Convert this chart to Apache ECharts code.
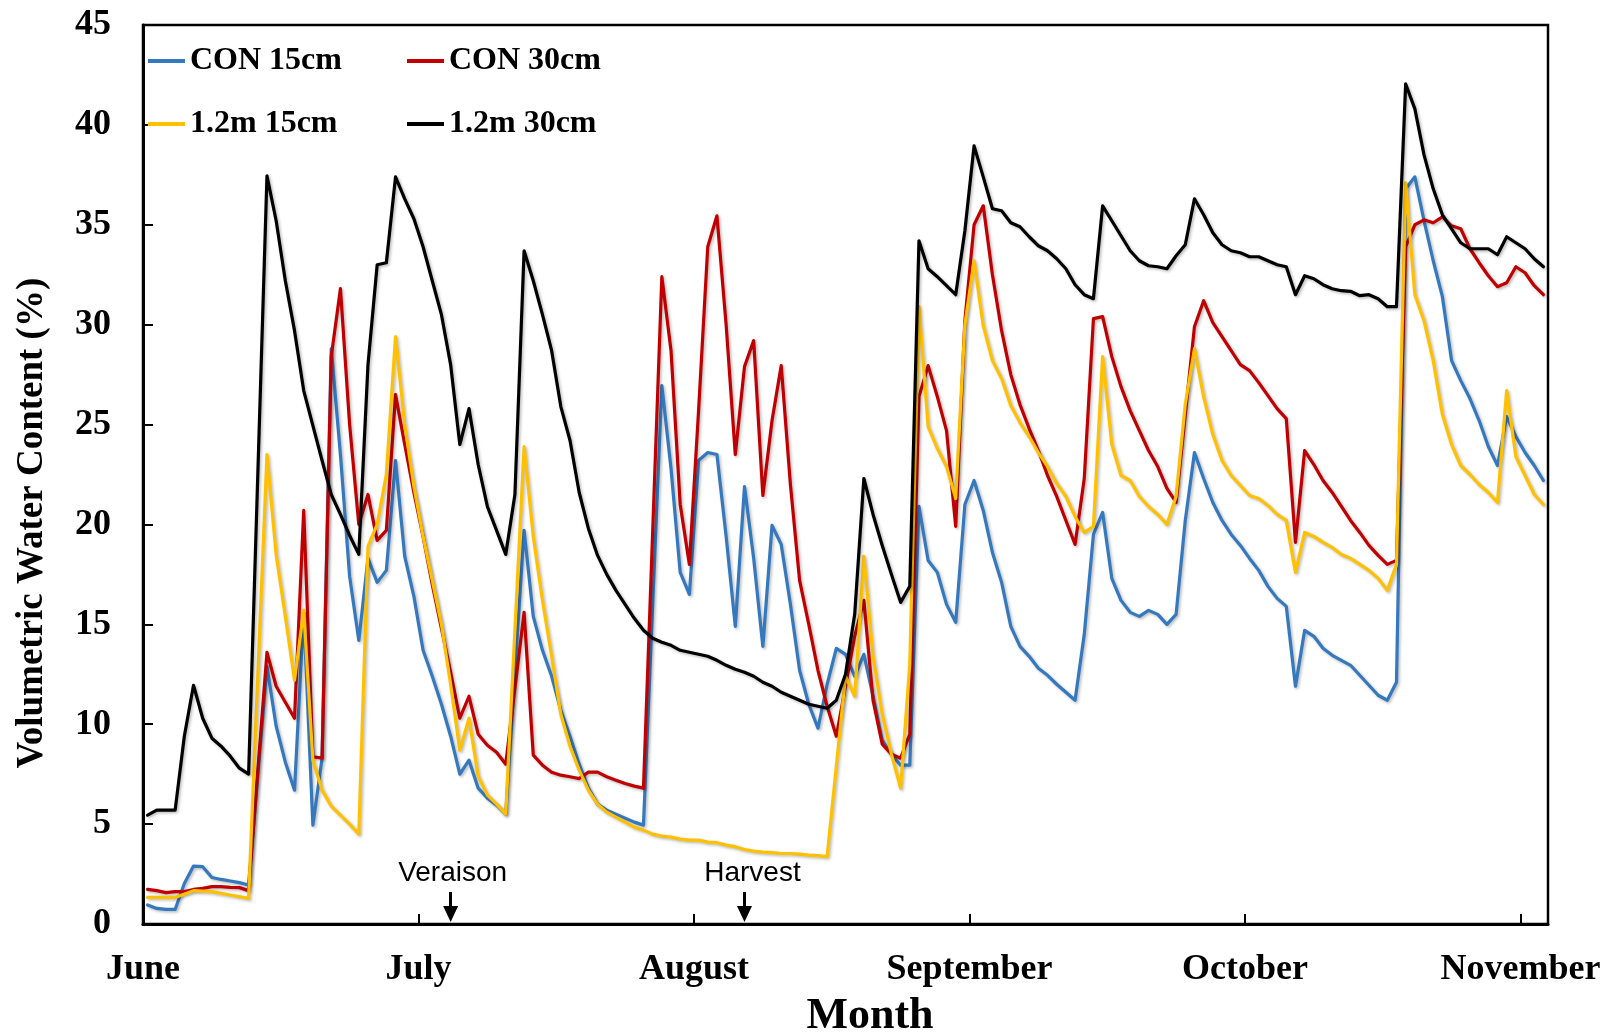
<!DOCTYPE html>
<html><head><meta charset="utf-8">
<script src="https://cdn.jsdelivr.net/npm/echarts@6/dist/echarts.min.js"></script>
<style>html,body{margin:0;padding:0;background:#fff}#c{width:1618px;height:1036px}</style>
</head><body><div id="c"></div>
<script>
// Month tick labels (one every 30 daily categories)
const monthLabels = ['June', 'July', 'August', 'September', 'October', 'November'];
const dayCount = 153;

// [day index from June 1, volumetric water content %]
const con15 = [[0,0.95],[1,0.78],[2,0.73],[3,0.73],[4,2.03],[5,2.9],[6,2.87],[7,2.33],[8,2.23],[9,2.15],[10,2.07],[11,1.95],[13,12.9],[14,9.9],[15,8.1],[16,6.7],[17,15.6],[18,4.95],[19,8.3],[20,28.8],[21,23.5],[22,17.4],[23,14.2],[24,18.3],[25,17.1],[26,17.7],[27,23.2],[28,18.4],[29,16.4],[30,13.7],[31,12.4],[32,11.0],[33,9.4],[34,7.5],[35,8.2],[36,6.8],[37,6.3],[38,5.95],[39,5.5],[41,19.7],[42,15.4],[43,13.7],[44,12.4],[45,10.7],[46,9.4],[47,8.0],[48,6.8],[49,6.0],[50,5.7],[51,5.5],[52,5.3],[53,5.1],[54,4.95],[56,26.95],[57,22.8],[58,17.6],[59,16.5],[60,23.2],[61,23.6],[62,23.5],[63,19.4],[64,14.9],[65,21.9],[66,18.3],[67,13.9],[68,19.95],[69,19.0],[70,16.0],[71,12.7],[72,11.0],[73,9.8],[74,12.0],[75,13.8],[76,13.5],[77,12.4],[78,13.5],[79,11.4],[80,9.2],[81,8.5],[82,7.95],[83,7.95],[84,20.9],[85,18.2],[86,17.6],[87,16.0],[88,15.1],[89,21.0],[90,22.2],[91,20.7],[92,18.6],[93,17.1],[94,14.9],[95,13.9],[96,13.4],[97,12.8],[98,12.45],[99,12.0],[100,11.6],[101,11.2],[102,14.5],[103,19.5],[104,20.6],[105,17.3],[106,16.2],[107,15.6],[108,15.4],[109,15.7],[110,15.5],[111,15.0],[112,15.5],[113,20.2],[114,23.6],[115,22.3],[116,21.1],[117,20.2],[118,19.5],[119,18.95],[120,18.3],[121,17.7],[122,16.9],[123,16.3],[124,15.9],[125,11.9],[126,14.7],[127,14.4],[128,13.8],[129,13.45],[130,13.2],[131,12.95],[132,12.45],[133,11.95],[134,11.45],[135,11.2],[136,12.1],[137,36.8],[138,37.4],[139,35.2],[140,33.2],[141,31.4],[142,28.2],[143,27.2],[144,26.3],[145,25.2],[146,23.9],[147,22.95],[148,25.4],[149,24.4],[150,23.6],[151,22.95],[152,22.2]];

const con30 = [[0,1.73],[1,1.67],[2,1.57],[3,1.62],[4,1.62],[5,1.73],[6,1.78],[7,1.87],[8,1.87],[9,1.83],[10,1.82],[11,1.67],[13,13.6],[14,11.9],[15,11.1],[16,10.3],[17,20.7],[18,8.37],[19,8.3],[20,28.4],[21,31.8],[22,25.0],[23,20.0],[24,21.5],[25,19.2],[26,19.7],[27,26.5],[28,24.0],[29,21.6],[30,19.4],[31,17.0],[32,14.8],[33,12.6],[34,10.3],[35,11.4],[36,9.5],[37,8.95],[38,8.6],[39,8.0],[41,15.6],[42,8.45],[43,7.95],[44,7.6],[45,7.45],[46,7.37],[47,7.28],[48,7.6],[49,7.6],[50,7.37],[51,7.2],[52,7.03],[53,6.9],[54,6.8],[56,32.4],[57,28.7],[58,21.0],[59,18.0],[60,25.7],[61,33.9],[62,35.45],[63,30.0],[64,23.5],[65,27.9],[66,29.2],[67,21.45],[68,25.2],[69,27.95],[70,22.0],[71,17.2],[72,15.0],[73,12.7],[74,10.9],[75,9.4],[76,11.9],[77,14.4],[78,16.2],[79,11.2],[80,9.0],[81,8.5],[82,8.3],[83,9.5],[84,26.4],[85,27.95],[86,26.4],[87,24.7],[88,19.9],[89,30.2],[90,35.0],[91,35.95],[92,32.5],[93,29.7],[94,27.5],[95,26.0],[96,24.8],[97,23.7],[98,22.45],[99,21.4],[100,20.2],[101,19.0],[102,22.3],[103,30.3],[104,30.4],[105,28.4],[106,26.9],[107,25.7],[108,24.7],[109,23.7],[110,22.9],[111,21.8],[112,21.1],[113,25.5],[114,29.9],[115,31.2],[116,30.1],[117,29.4],[118,28.7],[119,28.0],[120,27.7],[121,27.1],[122,26.45],[123,25.8],[124,25.3],[125,19.1],[126,23.7],[127,23.0],[128,22.2],[129,21.6],[130,20.9],[131,20.2],[132,19.6],[133,18.95],[134,18.45],[135,18.0],[136,18.2],[137,33.9],[138,35.0],[139,35.25],[140,35.1],[141,35.4],[142,34.95],[143,34.8],[144,33.8],[145,33.1],[146,32.45],[147,31.9],[148,32.1],[149,32.9],[150,32.6],[151,31.95],[152,31.5]];

const m12_15 = [[0,1.33],[3,1.33],[5,1.67],[7,1.62],[9,1.45],[11,1.28],[13,23.5],[14,18.5],[15,15.4],[16,12.2],[17,15.7],[18,8.2],[19,6.7],[20,5.9],[21,5.45],[22,5.0],[23,4.5],[24,18.9],[25,20.0],[26,22.5],[27,29.4],[28,25.0],[29,21.9],[30,19.4],[31,17.2],[32,15.0],[33,12.0],[34,8.7],[35,10.3],[36,7.4],[37,6.45],[38,6.0],[39,5.5],[41,23.9],[42,19.4],[43,16.2],[44,13.4],[45,10.5],[46,8.9],[47,7.7],[48,6.7],[49,6.0],[50,5.6],[51,5.35],[52,5.1],[53,4.85],[54,4.7],[55,4.5],[56,4.4],[57,4.35],[58,4.25],[59,4.2],[60,4.2],[61,4.1],[62,4.07],[63,3.95],[64,3.87],[65,3.73],[66,3.65],[67,3.6],[68,3.57],[69,3.53],[70,3.53],[71,3.5],[72,3.45],[73,3.42],[74,3.37],[76,12.4],[77,11.4],[78,18.4],[79,13.4],[80,10.5],[81,8.5],[82,6.8],[83,13.0],[84,30.9],[85,24.9],[86,23.8],[87,22.9],[88,21.3],[89,30.0],[90,33.2],[91,29.95],[92,28.2],[93,27.3],[94,25.95],[95,25.1],[96,24.4],[97,23.6],[98,22.9],[99,22.05],[100,21.4],[101,20.4],[102,19.6],[103,19.9],[104,28.4],[105,24.0],[106,22.45],[107,22.2],[108,21.4],[109,20.9],[110,20.5],[111,20.0],[112,21.4],[113,26.0],[114,28.8],[115,26.4],[116,24.5],[117,23.2],[118,22.45],[119,21.95],[120,21.45],[121,21.3],[122,20.95],[123,20.5],[124,20.2],[125,17.6],[126,19.6],[127,19.4],[128,19.1],[129,18.85],[130,18.5],[131,18.3],[132,18.0],[133,17.7],[134,17.3],[135,16.7],[136,18.0],[137,37.1],[138,31.5],[139,30.2],[140,28.2],[141,25.5],[142,24.0],[143,22.95],[144,22.5],[145,22.0],[146,21.6],[147,21.1],[148,26.7],[149,23.4],[150,22.45],[151,21.5],[152,21.0]];

const m12_30 = [[0,5.45],[1,5.7],[2,5.7],[3,5.7],[4,9.4],[5,11.95],[6,10.3],[7,9.3],[8,8.9],[9,8.4],[10,7.8],[11,7.5],[13,37.45],[14,35.2],[15,32.2],[16,29.7],[17,26.7],[18,24.95],[19,23.2],[20,21.5],[21,20.5],[22,19.45],[23,18.5],[24,28.0],[25,33.0],[26,33.1],[27,37.4],[28,36.3],[29,35.3],[30,33.9],[31,32.2],[32,30.5],[33,28.0],[34,24.0],[35,25.8],[36,23.0],[37,20.9],[38,19.7],[39,18.5],[40,21.5],[41,33.7],[42,32.2],[43,30.5],[44,28.7],[45,25.9],[46,24.2],[47,21.6],[48,19.8],[49,18.45],[50,17.5],[51,16.7],[52,16.0],[53,15.3],[54,14.7],[55,14.3],[56,14.1],[57,13.95],[58,13.7],[59,13.6],[60,13.5],[61,13.4],[62,13.2],[63,12.95],[64,12.75],[65,12.6],[66,12.4],[67,12.1],[68,11.9],[69,11.6],[70,11.4],[71,11.2],[72,11.0],[73,10.9],[74,10.8],[75,11.2],[76,12.5],[77,15.5],[78,22.3],[79,20.5],[80,18.95],[81,17.5],[82,16.1],[83,16.9],[84,34.2],[85,32.8],[86,32.4],[87,31.95],[88,31.5],[89,34.7],[90,38.95],[91,37.4],[92,35.8],[93,35.7],[94,35.1],[95,34.9],[96,34.4],[97,33.95],[98,33.7],[99,33.3],[100,32.8],[101,32.0],[102,31.5],[103,31.3],[104,35.95],[105,35.2],[106,34.45],[107,33.7],[108,33.2],[109,32.95],[110,32.9],[111,32.8],[112,33.45],[113,34.0],[114,36.3],[115,35.5],[116,34.6],[117,34.0],[118,33.7],[119,33.6],[120,33.4],[121,33.4],[122,33.2],[123,33.0],[124,32.9],[125,31.5],[126,32.45],[127,32.3],[128,32.0],[129,31.8],[130,31.7],[131,31.67],[132,31.45],[133,31.5],[134,31.3],[135,30.9],[136,30.9],[137,42.05],[138,40.8],[139,38.5],[140,36.8],[141,35.5],[142,34.8],[143,34.1],[144,33.8],[145,33.8],[146,33.8],[147,33.5],[148,34.4],[149,34.1],[150,33.8],[151,33.3],[152,32.9]];

// Event markers: [label, day index]
const events = [['Veraison', 33], ['Harvest', 65]];
const eventLabelShift = [2, 8];

const seriesNames = ['CON 15cm', 'CON 30cm', '1.2m 15cm', '1.2m 30cm'];
const seriesColors = ['#3478BE', '#C00000', '#FFC000', '#000000'];
const seriesData = [con15, con30, m12_15, m12_30];

const chart = echarts.init(document.getElementById('c'), null, {renderer: 'canvas'});
const serif = '"Liberation Serif", "Times New Roman", serif';

const series = seriesData.map((arr, k) => ({
  name: seriesNames[k],
  type: 'line',
  data: arr.map(p => [p[0] + 0.5, p[1]]),
  showSymbol: false,
  symbol: 'none',
  color: seriesColors[k],
  lineStyle: {width: 3.2, color: seriesColors[k], join: 'round', cap: 'round',
    shadowColor: 'rgba(0,0,0,0.28)', shadowBlur: 3, shadowOffsetX: 1.5, shadowOffsetY: 1.5},
  z: 2 + k,
  animation: false
}));

series.push({
  name: 'events', type: 'line', data: [], silent: true, animation: false,
  markLine: {
    silent: true, animation: false,
    symbol: ['none', 'triangle'], symbolSize: [15, 16],
    lineStyle: {color: '#000', width: 3, type: 'solid'},
    label: {show: true, position: 'start', distance: 5, color: '#000',
      fontFamily: '"Liberation Sans", Arial, sans-serif', fontSize: 28, fontWeight: 'normal',
      formatter: p => p.data.name || ''},
    data: events.map((e, k) => [
      {name: e[0], coord: [e[1] + 0.5, 1.6], label: {offset: [eventLabelShift[k], 0]}},
      {coord: [e[1] + 0.5, 0.5]}
    ])
  }
});

const legendCommon = {
  orient: 'vertical', padding: 0, itemGap: 31, itemWidth: 37, itemHeight: 4,
  icon: 'rect', selectedMode: false,
  textStyle: {fontFamily: serif, fontWeight: 'bold', fontSize: 32, color: '#000', lineHeight: 32}
};

chart.setOption({
  animation: false,
  backgroundColor: '#fff',
  grid: {left: 143, right: 70, top: 25, bottom: 112, show: true, borderColor: '#000', borderWidth: 2.5, containLabel: false},
  legend: [
    Object.assign({left: 148, top: 45, data: [seriesNames[0], seriesNames[2]]}, legendCommon),
    Object.assign({left: 407, top: 45, data: [seriesNames[1], seriesNames[3]]}, legendCommon)
  ],
  xAxis: {
    type: 'value', min: 0, max: dayCount, interval: 30,
    axisLine: {show: true, lineStyle: {color: '#000', width: 3}},
    axisTick: {show: true, inside: true, length: 10, lineStyle: {color: '#000', width: 2}},
    splitLine: {show: false},
    axisLabel: {
      margin: 28, color: '#000', fontFamily: serif, fontWeight: 'bold', fontSize: 36,
      showMaxLabel: false,
      formatter: v => (v % 30 === 0 && monthLabels[v / 30]) ? monthLabels[v / 30] : ''
    }
  },
  yAxis: {
    type: 'value', min: 0, max: 45, interval: 5,
    axisLine: {show: true, lineStyle: {color: '#000', width: 3}},
    axisTick: {show: true, inside: true, length: 10, lineStyle: {color: '#000', width: 2}},
    splitLine: {show: false},
    axisLabel: {margin: 32, color: '#000', fontFamily: serif, fontWeight: 'bold', fontSize: 36, verticalAlign: 'middle', lineHeight: 36, padding: [7, 0, 0, 0]}
  },
  graphic: [
    {type: 'text', x: 32, y: 507 * 1618 / 1568, rotation: Math.PI / 2,
      style: {text: 'Volumetric Water Content (%)', font: 'bold 37px ' + serif, fill: '#000', align: 'center', verticalAlign: 'middle'}},
    {type: 'text', x: 870, y: 1017,
      style: {text: 'Month', font: 'bold 44px ' + serif, fill: '#000', align: 'center', verticalAlign: 'middle'}}
  ],
  series: series
});
</script></body></html>
